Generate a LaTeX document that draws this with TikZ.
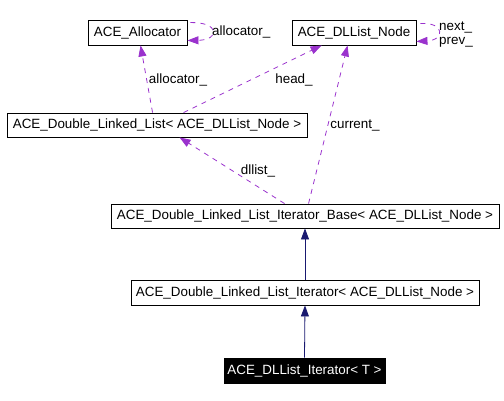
\documentclass[tikz,border=0pt]{standalone}
\usepackage{fontspec}
\setmainfont{Liberation Sans}
\usetikzlibrary{arrows.meta,calc}
\definecolor{usagec}{HTML}{9A32CD}
\definecolor{inhc}{HTML}{191970}
\begin{document}
\begin{tikzpicture}[x=1pt,y=-1pt,
  font=\fontsize{13.4}{15}\selectfont,
  cls/.style={draw=black,line width=0.9pt,inner sep=0pt,fill=white,text=black},
  usage/.style={draw=usagec,line width=0.8pt,dash pattern=on 5pt off 5pt,
    -{Triangle[length=11pt,width=8pt,fill=usagec]}},
  inh/.style={draw=inhc,line width=0.8pt,
    -{Triangle[length=11pt,width=8pt,fill=inhc]}},
  lbl/.style={inner sep=0pt,text=black}]
\useasboundingbox (0,0) rectangle (504,400);
% nodes
\node[cls,minimum width=99pt,minimum height=25pt] (alloc) at (137.5,32.5) {ACE\_Allocator};
\node[cls,minimum width=124pt,minimum height=25pt] (dnode) at (354,32.5) {ACE\_DLList\_Node};
\node[cls,minimum width=300pt,minimum height=24pt] (dll) at (157,125) {ACE\_Double\_Linked\_List< ACE\_DLList\_Node >};
\node[cls,minimum width=388pt,minimum height=24pt] (base) at (305,216) {ACE\_Double\_Linked\_List\_Iterator\_Base< ACE\_DLList\_Node >};
\node[cls,minimum width=348pt,minimum height=25pt] (iter) at (305,292.5) {ACE\_Double\_Linked\_List\_Iterator< ACE\_DLList\_Node >};
\node[cls,fill=black,text=white,minimum width=161pt,minimum height=25pt] (dliter) at (304.5,370.5) {ACE\_DLList\_Iterator< T >};
% inheritance
\draw[inh] (iter.north) -- (base.south);
\draw[inh] (dliter.north) -- (iter.south);
% self loops
\draw[usage] ($(alloc.north east)+(3,3)$) .. controls (220,22) and (220,40) .. ($(alloc.south east)+(0,-5)$);
\node[lbl,anchor=west] (lalloc1) at (212,32) {allocator\_};
\draw[usage] ($(dnode.north east)+(4,4)$) .. controls (445,22) and (445,40) .. ($(dnode.south east)+(0,-4)$);
\node[lbl,anchor=west] (lnext) at (439,27) {next\_};
\node[lbl,anchor=west] (lprev) at (439,42) {prev\_};
% usage edges
\draw[usage] ($(dll.north west)+(146,0)$) -- ($(alloc.south west)+(53,0)$);
\node[lbl] (lalloc2) at (178,80) {allocator\_};
\draw[usage] ($(dll.north west)+(177,0)$) -- ($(dnode.south west)+(30,0)$);
\node[lbl] (lhead) at (294,80) {head\_};
\draw[usage] ($(base.north west)+(198,0)$) -- ($(dnode.south west)+(56,0)$);
\node[lbl] (lcur) at (355,125) {current\_};
\draw[usage] ($(base.north west)+(174,0)$) -- ($(dll.south west)+(173,0)$);
\node[lbl] (ldll) at (258,171) {dllist\_};
\end{tikzpicture}
\end{document}
